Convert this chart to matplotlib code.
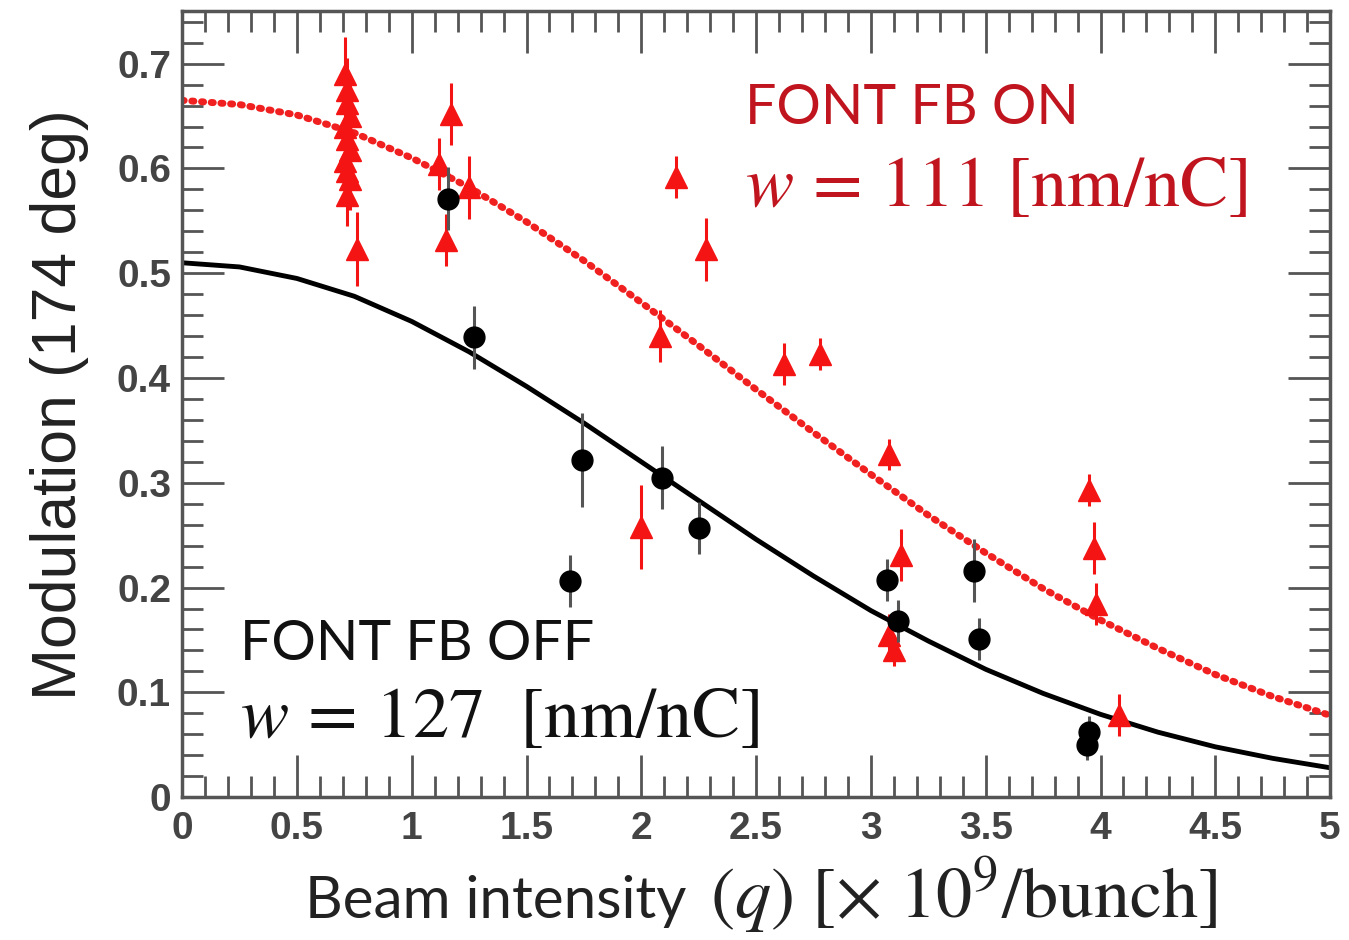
import numpy as np
import matplotlib.pyplot as plt
from matplotlib.ticker import MultipleLocator

# FONT FB ON (red triangles)
q_on = [0.71, 0.72, 0.72, 0.73, 0.71, 0.72, 0.73, 0.71, 0.72, 0.73, 0.72, 0.76,
        1.12, 1.17, 1.15, 1.25, 2.15, 2.28, 2.08, 2.00, 2.62, 2.78,
        3.08, 3.13, 3.08, 3.10, 3.95, 3.97, 3.98, 4.08]
m_on = [0.690, 0.675, 0.662, 0.650, 0.640, 0.628, 0.618, 0.607, 0.598, 0.590, 0.575, 0.523,
        0.604, 0.652, 0.532, 0.582, 0.592, 0.523, 0.440, 0.258, 0.413, 0.423,
        0.327, 0.231, 0.155, 0.140, 0.293, 0.238, 0.184, 0.078]
e_on = [0.035, 0.03, 0.03, 0.03, 0.03, 0.03, 0.03, 0.03, 0.03, 0.03, 0.03, 0.035,
        0.025, 0.03, 0.025, 0.03, 0.02, 0.03, 0.025, 0.04, 0.02, 0.015,
        0.015, 0.025, 0.02, 0.015, 0.015, 0.025, 0.02, 0.02]

# FONT FB OFF (black circles)
q_off = [1.16, 1.27, 1.74, 1.69, 2.09, 2.25, 3.07, 3.12, 3.45, 3.47, 3.95, 3.94]
m_off = [0.571, 0.439, 0.322, 0.206, 0.305, 0.257, 0.207, 0.168, 0.216, 0.151, 0.062, 0.050]
e_off = [0.03, 0.03, 0.045, 0.025, 0.03, 0.025, 0.02, 0.02, 0.03, 0.02, 0.015, 0.015]

# fit curves
q_fit = [0.0, 0.25, 0.5, 0.75, 1.0, 1.25, 1.5, 1.75, 2.0, 2.25, 2.5,
         2.75, 3.0, 3.25, 3.5, 3.75, 4.0, 4.25, 4.5, 4.75, 5.0]
fit_on = [0.665, 0.661, 0.651, 0.634, 0.610, 0.582, 0.549, 0.512, 0.472, 0.431, 0.389,
          0.348, 0.308, 0.269, 0.233, 0.199, 0.169, 0.142, 0.117, 0.096, 0.078]
fit_off = [0.510, 0.506, 0.495, 0.478, 0.454, 0.425, 0.392, 0.357, 0.320, 0.283, 0.246,
           0.211, 0.178, 0.149, 0.122, 0.099, 0.079, 0.062, 0.048, 0.037, 0.028]

plt.rcParams['mathtext.fontset'] = 'stix'

fig = plt.figure(figsize=(13.49, 9.40), dpi=100)
ax = fig.add_axes([0.135, 0.152, 0.851, 0.836])

ax.plot(q_fit, fit_on, color='#f02020', lw=5, ls=(0, (0.3, 1.1)),
        dash_capstyle='round', zorder=2)
ax.plot(q_fit, fit_off, color='black', lw=3.5, zorder=2)

ax.errorbar(q_on, m_on, yerr=e_on, fmt='^', color='#f41414', ms=16,
            elinewidth=2.2, capsize=0, zorder=3)
ax.errorbar(q_off, m_off, yerr=e_off, fmt='o', color='black', ecolor='#555555',
            ms=15, elinewidth=2.2, capsize=0, zorder=4)

ax.set_xlim(0, 5)
ax.set_ylim(0, 0.75)
ax.xaxis.set_minor_locator(MultipleLocator(0.1))
ax.yaxis.set_minor_locator(MultipleLocator(0.02))
ax.set_xticks(np.arange(0, 5.01, 0.5))
ax.set_xticklabels(['0', '0.5', '1', '1.5', '2', '2.5', '3', '3.5', '4', '4.5', '5'])
ax.set_yticks(np.arange(0, 0.71, 0.1))
ax.set_yticklabels(['0', '0.1', '0.2', '0.3', '0.4', '0.5', '0.6', '0.7'])

ax.tick_params(which='both', direction='in', top=True, right=True, color='#555555', width=2)
ax.tick_params(which='major', length=30)
ax.tick_params(axis='x', which='major', pad=10)
ax.tick_params(axis='y', which='major', pad=8)
ax.tick_params(which='minor', length=15)
for lab in ax.get_xticklabels() + ax.get_yticklabels():
    lab.set_family('Liberation Sans')
    lab.set_fontsize(28)
    lab.set_fontweight('bold')
    lab.set_color('#444444')
for s in ax.spines.values():
    s.set_color('#555555')
    s.set_linewidth(2.5)

ax.set_ylabel('Modulation (174 deg)', family='Liberation Sans', fontsize=45,
              color='#222222', labelpad=20)

# x label: sans part plus larger serif math part
fig.text(305 / 1349, 1 - 918 / 940, 'Beam intensity', family='Lato', fontsize=42,
         color='#222222', ha='left', va='baseline')
fig.text(710 / 1349, 1 - 918 / 940, r'$(q)\ [\times\ 10^9/\mathrm{bunch}]$',
         fontsize=52, color='#222222', ha='left', va='baseline')

ax.text(0.49, 0.857, 'FONT FB ON', transform=ax.transAxes, family='Lato',
        fontsize=40, color='#c0141e')
ax.text(0.49, 0.752, r'$w\,=\,111\ [\mathrm{nm/nC}]$', transform=ax.transAxes,
        fontsize=52, color='#c0141e')
ax.text(0.05, 0.175, 'FONT FB OFF', transform=ax.transAxes, family='Lato',
        fontsize=40, color='#111111')
ax.text(0.05, 0.077, r'$w\,=\,127\ \ [\mathrm{nm/nC}]$', transform=ax.transAxes,
        fontsize=52, color='#111111')

fig.savefig('out.png', dpi=100)
